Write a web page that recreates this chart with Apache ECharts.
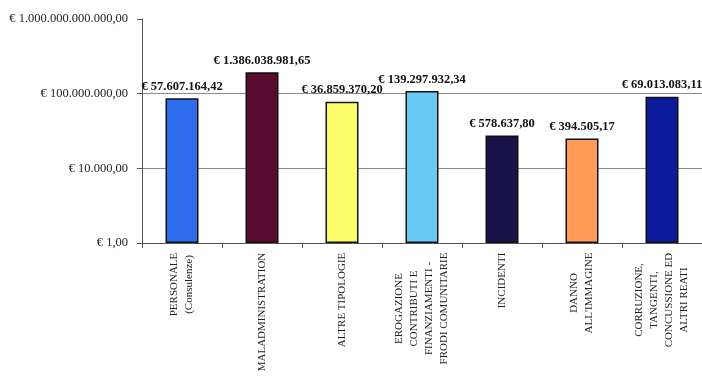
<!DOCTYPE html>
<html><head><meta charset="utf-8">
<script src="https://cdn.jsdelivr.net/npm/echarts@6/dist/echarts.min.js"></script>
<style>html,body{margin:0;padding:0;background:#fff}#c{width:702px;height:380px}</style>
</head><body><div id="c"></div>
<script>
const categories = ['PERSONALE\n(Consulenze)', 'MALADMINISTRATION', 'ALTRE TIPOLOGIE',
  'EROGAZIONE\nCONTRIBUTI E\nFINANZIAMENTI -\nFRODI COMUNITARIE', 'INCIDENTI',
  'DANNO\nALL\'IMMAGINE', 'CORRUZIONE,\nTANGENTI,\nCONCUSSIONE ED\nALTRI REATI'];
const values = [57607164.42, 1386038981.65, 36859370.20, 139297932.34, 578637.80, 394505.17, 69013083.11];
const colors = ['#2d6ded', '#5a0b30', '#fdfd6a', '#68c9f2', '#1a1349', '#ff9a58', '#0b1b9c'];
const yMin = 1, yMax = 1e12, yLogBase = 10000;

const FONT = '"Liberation Serif", "Times New Roman", serif';
function fmt(v) {
  const parts = Number(v).toFixed(2).split('.');
  return '€ ' + parts[0].replace(/\B(?=(\d{3})+(?!\d))/g, '.') + ',' + parts[1];
}
const cv = document.createElement('canvas').getContext('2d');
cv.font = '11px "Liberation Serif"';
const rich = {};
categories.forEach((c, i) => {
  const w = Math.max(...c.split('\n').map(s => cv.measureText(s).width));
  rich['l' + i] = { width: Math.ceil(w) + 1, align: 'center', fontSize: 11, fontFamily: FONT, lineHeight: 15, color: '#222' };
});

const chart = echarts.init(document.getElementById('c'), null, { renderer: 'canvas' });
chart.setOption({
  backgroundColor: '#fff',
  animation: false,
  grid: { left: 142, right: 0, top: 19, bottom: 137, containLabel: false },
  xAxis: {
    type: 'category',
    data: categories,
    boundaryGap: true,
    axisLine: { lineStyle: { color: '#555', width: 1 } },
    axisTick: { show: true, length: 5, alignWithLabel: false, lineStyle: { color: '#555' } },
    axisLabel: {
      interval: 0, rotate: 90, margin: 9,
      formatter: (v, i) => v.split('\n').map(s => '{l' + i + '|' + s + '}').join('\n'),
      rich: rich
    }
  },
  yAxis: {
    type: 'log', logBase: yLogBase, min: yMin, max: yMax,
    axisLine: { show: true, lineStyle: { color: '#555', width: 1 } },
    axisTick: { show: true, length: 5, lineStyle: { color: '#555' } },
    axisLabel: { formatter: v => fmt(v), fontSize: 12.5, fontFamily: FONT, color: '#222', margin: 14 },
    splitLine: { show: true, showMaxLine: false, lineStyle: { color: '#8a8a8a', width: 1 } }
  },
  series: [{
    type: 'bar',
    barWidth: 33,
    data: values.map((v, i) => ({ value: v, itemStyle: { color: colors[i] } })),
    itemStyle: { borderColor: '#111', borderWidth: 1.5 },
    label: {
      show: true, position: 'top', distance: 5,
      formatter: p => fmt(p.value),
      fontSize: 12.5, fontWeight: 'bold', fontFamily: FONT, color: '#111'
    }
  }]
});
</script>
</body></html>
